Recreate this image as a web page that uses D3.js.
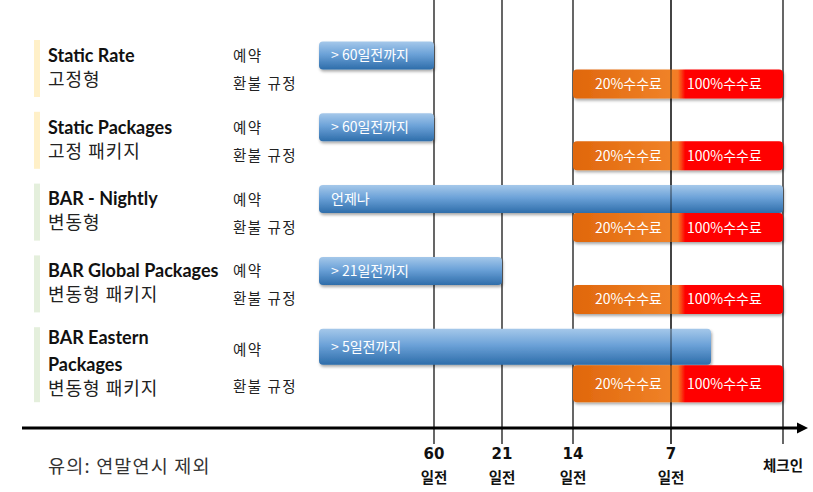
<!DOCTYPE html>
<html><head><meta charset="utf-8">
<script src="https://cdn.jsdelivr.net/npm/d3@7"></script>
<style>
body{margin:0;background:#fff;}
text{font-family:"Noto Sans CJK KR","Noto Sans",sans-serif;}
.title{font-family:Lato,"Noto Sans CJK KR",sans-serif;font-weight:bold;}
.tick{font-family:"DejaVu Sans","Noto Sans CJK KR",sans-serif;font-weight:bold;}
</style></head><body>
<svg id="c" width="813" height="492"></svg>
<script>
const plans = ["Static Rate", "Static Packages", "BAR - Nightly", "BAR Global Packages", "BAR Eastern Packages"];
const planTitleLines = [["Static Rate"], ["Static Packages"], ["BAR - Nightly"], ["BAR Global Packages"], ["BAR Eastern", "Packages"]];
const plansKo = ["고정형", "고정 패키지", "변동형", "변동형 패키지", "변동형 패키지"];
const bandGroup = ["static", "static", "bar", "bar", "bar"];
const bookLabels = ["> 60일전까지", "> 60일전까지", "언제나", "> 21일전까지", "> 5일전까지"];
const bookFrom = [90, 90, 90, 90, 90];
const bookUntil = [60, 60, 0, 21, 4.5];
const feeStart = 14, feeSplit = 7, feeEnd = 0;
const feeLabels = ["20%수수료", "100%수수료"];
const tickDays = [60, 21, 14, 7, 0];
const tickLabels = [["60", "일전"], ["21", "일전"], ["14", "일전"], ["7", "일전"], ["체크인"]];
const rowLabelBook = "예약", rowLabelRefund = "환불 규정";
const note = "유의: 연말연시 제외";

const svg = d3.select("#c");
const defs = svg.append("defs");
const x = d3.scaleLinear().domain([90, 60, 21, 14, 7, 0]).range([319, 434, 502, 573, 671, 783]);
const bandColor = d3.scaleOrdinal().domain(["static", "bar"]).range(["#FFF0C8", "#E4EFDC"]);

const blueG = defs.append("linearGradient").attr("id", "blue").attr("x1", 0).attr("x2", 0).attr("y1", 0).attr("y2", 1);
[["0%", "#A5C8EA"], ["45%", "#6CA2D8"], ["100%", "#2E6DAA"]].forEach(s => blueG.append("stop").attr("offset", s[0]).attr("stop-color", s[1]));
const feeG = defs.append("linearGradient").attr("id", "fee").attr("x1", 0).attr("x2", 1).attr("y1", 0).attr("y2", 0);
[["0%", "#E0670C"], ["46.6%", "#F08228"], ["50%", "#F47A26"], ["53.5%", "#FF0000"], ["100%", "#FF0000"]].forEach(s => feeG.append("stop").attr("offset", s[0]).attr("stop-color", s[1]));
const sh = defs.append("filter").attr("id", "sh").attr("x", "-5%").attr("y", "-20%").attr("width", "110%").attr("height", "150%");
sh.append("feDropShadow").attr("dx", 1).attr("dy", 2).attr("stdDeviation", 1.5).attr("flood-color", "#000").attr("flood-opacity", 0.35);

const rowTop = i => 40 + i * 71.8;
const last = plans.length - 1;

// vertical grid lines (behind)
svg.append("g").selectAll("line").data(tickDays).join("line")
  .attr("x1", d => x(d)).attr("x2", d => x(d)).attr("y1", 0).attr("y2", 444)
  .attr("stroke", "#000").attr("stroke-width", 1.2);

plans.forEach((p, i) => {
  const t = rowTop(i);
  const tall = i === last;
  const g = svg.append("g");
  g.append("rect").attr("x", 34).attr("y", t).attr("width", 6).attr("height", tall ? 75 : 57).attr("fill", bandColor(bandGroup[i]));
  const lines = planTitleLines[i];
  lines.forEach((l, k) => g.append("text").attr("class", "title").attr("x", 48).attr("y", t + (tall ? 10.5 : 15.5) + k * 27).attr("dy", "0.35em")
    .attr("font-size", 18).attr("fill", "#111").text(l));
  g.append("text").attr("x", 48).attr("y", t + (tall ? 61 : 39.5)).attr("dy", "0.35em").attr("font-size", 18).attr("letter-spacing", 1).attr("fill", "#222").text(plansKo[i]);
  g.append("text").attr("x", 233).attr("y", t + (tall ? 23 : 16)).attr("dy", "0.35em").attr("font-size", 14.5).attr("letter-spacing", 1.5).attr("fill", "#222").text(rowLabelBook);
  g.append("text").attr("x", 233).attr("y", t + (tall ? 60 : 44)).attr("dy", "0.35em").attr("font-size", 14.5).attr("letter-spacing", 1.5).attr("fill", "#222").text(rowLabelRefund);

  const by = t + 1.5, bh = tall ? 36 : 28;
  g.append("rect").attr("x", x(bookFrom[i])).attr("y", by).attr("width", x(bookUntil[i]) - x(bookFrom[i])).attr("height", bh)
    .attr("rx", 4).attr("fill", "url(#blue)").attr("filter", "url(#sh)");
  g.append("text").attr("x", x(bookFrom[i]) + 12).attr("y", by + bh / 2).attr("dy", "0.35em").attr("font-size", 14).attr("fill", "#fff").text(bookLabels[i]);

  const fy = tall ? t + 38 : t + 29.5, fh = tall ? 37 : 29;
  g.append("rect").attr("x", x(feeStart)).attr("y", fy).attr("width", x(feeEnd) - x(feeStart)).attr("height", fh)
    .attr("rx", 4).attr("fill", "url(#fee)").attr("filter", "url(#sh)");
  g.append("text").attr("x", x(feeSplit) - 9).attr("y", fy + fh / 2).attr("dy", "0.35em").attr("text-anchor", "end").attr("font-size", 14).attr("fill", "#fff").text(feeLabels[0]);
  g.append("text").attr("x", x(feeSplit) + 16).attr("y", fy + fh / 2).attr("dy", "0.35em").attr("font-size", 14).attr("fill", "#fff").text(feeLabels[1]);
});

// 7-day line visible through bars
svg.append("line").attr("x1", x(feeSplit)).attr("x2", x(feeSplit)).attr("y1", 0).attr("y2", 444)
  .attr("stroke", "#000").attr("stroke-width", 1.2).attr("opacity", 0.55);

// axis
svg.append("line").attr("x1", 22).attr("x2", 800).attr("y1", 428).attr("y2", 428).attr("stroke", "#000").attr("stroke-width", 3);
svg.append("path").attr("d", "M797,422.5 L808,428 L797,433.5 Z").attr("fill", "#000");

const tl = svg.append("g").selectAll("g").data(tickDays).join("g").attr("transform", d => `translate(${x(d)},0)`);
tl.each(function(d, i) {
  const lab = tickLabels[i];
  const s = d3.select(this);
  if (lab.length === 2) {
    s.append("text").attr("class", "tick").attr("y", 454).attr("dy", "0.35em").attr("text-anchor", "middle").attr("font-size", 15).attr("fill", "#111").text(lab[0]);
    s.append("text").attr("y", 478).attr("dy", "0.35em").attr("text-anchor", "middle").attr("font-size", 14.5).attr("font-weight", "bold").attr("fill", "#111").text(lab[1]);
  } else {
    s.append("text").attr("y", 466).attr("dy", "0.35em").attr("text-anchor", "middle").attr("font-size", 14.5).attr("font-weight", "bold").attr("fill", "#111").text(lab[0]);
  }
});

svg.append("text").attr("x", 48).attr("y", 467).attr("dy", "0.35em").attr("font-size", 18.5).attr("letter-spacing", 1.2).attr("fill", "#333").text(note);
</script>
</body></html>
